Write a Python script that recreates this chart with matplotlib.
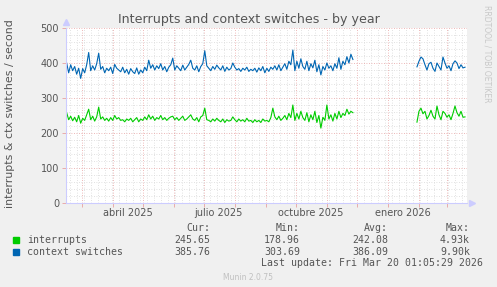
import matplotlib
matplotlib.use('Agg')
import matplotlib.pyplot as plt
import matplotlib.dates as mdates
from matplotlib.ticker import MultipleLocator, NullFormatter
from datetime import datetime, timedelta

# data, one value every 2 days
seg1_start = datetime(2025, 2, 14)
seg2_start = datetime(2026, 1, 30)
step_days = 2

ctx_seg1 = [400, 372, 395, 378, 390, 368, 385, 356, 384, 372, 395, 430, 378, 392, 380, 398,
            428, 382, 390, 372, 385, 378, 388, 370, 396, 385, 380, 375, 388, 372, 382, 368,
            384, 375, 370, 386, 368, 380, 372, 388, 378, 408, 385, 395, 380, 392, 384, 398,
            380, 390, 375, 388, 395, 414, 380, 392, 385, 378, 394, 380, 388, 396, 408, 385,
            380, 392, 375, 390, 398, 435, 392, 385, 378, 390, 382, 394, 386, 380, 392, 376,
            388, 380, 384, 400, 388, 380, 384, 376, 385, 380, 388, 376, 382, 378, 385, 374,
            386, 378, 390, 372, 385, 376, 388, 382, 392, 380, 395, 378, 388, 398, 382, 405,
            395, 437, 378, 405, 385, 412, 390, 382, 405, 378, 398, 386, 408, 375, 395, 366,
            390, 380, 400, 385, 392, 378, 398, 385, 415, 382, 405, 395, 418, 400, 425, 410]
irq_seg1 = [258, 238, 248, 235, 245, 232, 250, 228, 242, 236, 252, 268, 238, 248, 234, 246,
            274, 240, 246, 236, 242, 234, 244, 236, 250, 240, 244, 236, 238, 232, 240, 236,
            242, 232, 238, 244, 232, 240, 236, 246, 238, 252, 240, 248, 236, 244, 240, 250,
            238, 244, 236, 242, 246, 248, 238, 244, 236, 242, 248, 236, 240, 246, 252, 240,
            236, 244, 232, 246, 250, 271, 238, 236, 232, 240, 234, 242, 236, 232, 240, 230,
            238, 234, 236, 246, 238, 232, 240, 234, 238, 232, 242, 234, 236, 230, 238, 232,
            236, 230, 240, 234, 236, 232, 244, 271, 246, 238, 248, 236, 242, 250, 238, 256,
            244, 280, 236, 256, 240, 262, 244, 236, 258, 232, 252, 238, 262, 230, 250, 214,
            245, 236, 280, 240, 252, 234, 256, 240, 262, 244, 256, 250, 268, 254, 262, 258]
ctx_seg2 = [389, 405, 417, 412, 395, 380, 398, 402, 385, 376, 400, 390, 380, 417, 400, 385,
            392, 378, 398, 406, 400, 384, 395, 386, 388]
irq_seg2 = [231, 262, 271, 255, 262, 240, 250, 265, 248, 240, 277, 252, 238, 262, 256, 245,
            252, 238, 256, 277, 258, 248, 262, 245, 246]

series_names = ['interrupts', 'context switches']
series_colors = ['#00CC00', '#0066B3']
cur_vals = ['245.65', '385.76']
min_vals = ['178.96', '303.69']
avg_vals = ['242.08', '386.09']
max_vals = ['4.93k', '9.90k']

month_labels = ['abril 2025', 'julio 2025', 'octubre 2025', 'enero 2026']
label_dates = [datetime(2025, 4, 16), datetime(2025, 7, 16), datetime(2025, 10, 16), datetime(2026, 1, 16)]

x_start = datetime(2025, 2, 13, 8)
x_end = datetime(2026, 3, 21)


def dates_for(start, n):
    return [start + timedelta(days=step_days * i) for i in range(n)]


fig = plt.figure(figsize=(4.97, 2.87), dpi=100, facecolor='#F0F0F0')
ax = fig.add_axes([66 / 497, 1 - 203 / 287, 401 / 497, 175 / 287])
ax.set_facecolor('white')

for vals1, vals2, col in [(irq_seg1, irq_seg2, series_colors[0]), (ctx_seg1, ctx_seg2, series_colors[1])]:
    ax.plot(dates_for(seg1_start, len(vals1)), vals1, color=col, lw=0.8)
    ax.plot(dates_for(seg2_start, len(vals2)), vals2, color=col, lw=0.8)

ax.set_xlim(x_start, x_end)
ax.set_ylim(0, 500)

# grid
ax.xaxis.set_major_locator(mdates.MonthLocator())
ax.xaxis.set_minor_locator(mdates.WeekdayLocator(byweekday=mdates.MO))
ax.xaxis.set_major_formatter(NullFormatter())
ax.yaxis.set_major_locator(MultipleLocator(100))
ax.yaxis.set_minor_locator(MultipleLocator(20))
ax.grid(which='minor', color='#D8D8D8', ls=(0, (1, 2)), lw=0.6)
ax.grid(which='major', color='#E8A0A0', ls=(0, (1, 2)), lw=0.6)
ax.set_axisbelow(True)

for s in ['top', 'right']:
    ax.spines[s].set_visible(False)
for s in ['left', 'bottom']:
    ax.spines[s].set_color('#CCCCFF')
    ax.spines[s].set_linewidth(0.8)

ax.tick_params(axis='x', which='major', length=3, color='#E8A0A0', width=0.6)
ax.tick_params(axis='x', which='minor', length=0)
ax.tick_params(axis='y', which='major', length=3, color='#E8A0A0', width=0.6,
               labelsize=7, labelcolor='#555555', pad=2)
ax.tick_params(axis='y', which='minor', length=0)

# axis arrows
ax.plot([0], [1.035], marker='^', color='#CCCCFF', ms=4, transform=ax.transAxes, clip_on=False)
ax.plot([1.012], [0], marker='>', color='#CCCCFF', ms=4, transform=ax.transAxes, clip_on=False)

trans = ax.get_xaxis_transform()
for d, lab in zip(label_dates, month_labels):
    ax.text(d, -0.03, lab, transform=trans, ha='center', va='top', fontsize=7, color='#555555')

fig.text(249 / 497, 1 - 19 / 287, 'Interrupts and context switches - by year',
         ha='center', va='center', fontsize=9.1, color='#555555')
fig.text(10 / 497, 1 - 114 / 287, 'interrupts & ctx switches / second', rotation=90,
         ha='center', va='center', fontsize=7.9, color='#555555')
fig.text(487 / 497, 1 - 5 / 287, 'RRDTOOL / TOBI OETIKER', rotation=270,
         ha='center', va='top', fontsize=5.5, color='#C8C8C8')

mono = dict(family='DejaVu Sans Mono', fontsize=7.1, color='#555555', va='center')
y_head, y_rows = 1 - 228 / 287, [1 - 240 / 287, 1 - 252 / 287]
for xr, head in [(210, 'Cur:'), (300, 'Min:'), (388, 'Avg:'), (470, 'Max:')]:
    fig.text(xr / 497, y_head, head, ha='right', **mono)
for i, name in enumerate(series_names):
    fig.patches.append(plt.Rectangle((13 / 497, y_rows[i] - 3 / 287), 6 / 497, 6 / 287,
                                     color=series_colors[i], transform=fig.transFigure))
    fig.text(27 / 497, y_rows[i], name, ha='left', **mono)
    for xr, vals in [(210, cur_vals), (300, min_vals), (388, avg_vals), (470, max_vals)]:
        fig.text(xr / 497, y_rows[i], vals[i], ha='right', **mono)
fig.text(483 / 497, 1 - 263 / 287, 'Last update: Fri Mar 20 01:05:29 2026', ha='right', **mono)
fig.text(248 / 497, 1 - 277 / 287, 'Munin 2.0.75', ha='center', va='center', fontsize=5.5, color='#C0C0C0')

plt.savefig('out.png', dpi=100, facecolor=fig.get_facecolor())
